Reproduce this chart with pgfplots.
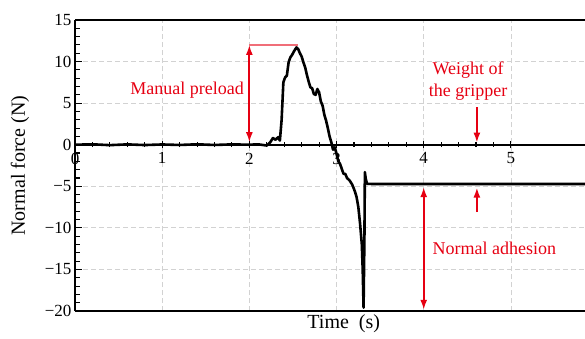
\documentclass[border=0pt]{standalone}
\usepackage{pgfplots}
\pgfplotsset{compat=1.18}
\usepackage{fontspec}
\setmainfont{Liberation Serif}
\usetikzlibrary{arrows.meta}
\definecolor{ared}{RGB}{230,0,18}
\definecolor{apink}{RGB}{240,110,120}
\begin{document}
\begin{tikzpicture}
\useasboundingbox (0,0) rectangle (585pt,338pt);
\begin{axis}[
  at={(75pt,27pt)}, anchor=south west,
  scale only axis, width=510pt, height=291pt,
  xmin=0, xmax=5.85, ymin=-20, ymax=15,
  clip=false,
  axis x line=middle, axis y line=left,
  axis line style={-, line width=1.5pt},
  x axis line style={-, line width=2.4pt},
  hide obscured x ticks=false, hide obscured y ticks=false,
  /pgf/number format/assume math mode=true,
  xtick={0,1,2,3,4,5}, minor x tick num=4,
  ytick={-20,-15,-10,-5,0,5,10,15},
  yticklabels={−20,−15,−10,−5,0,5,10,15},
  minor y tick num=4,
  xtick align=center, ytick align=inside,
  major tick length=7pt, minor tick length=5pt,
  every tick/.style={black, line width=1.1pt},
  grid=major,
  major grid style={gray!35, line width=0.8pt, dash pattern=on 5pt off 3pt},
  tick label style={font=\rmfamily\fontsize{17}{17}\selectfont, black},
  xticklabel style={yshift=-1pt},
  every axis y label/.style={at={(axis description cs:-0.1078,0.5)}, anchor=center, rotate=90, font=\rmfamily\fontsize{20}{20}\selectfont},
  every axis x label/.style={at={(axis description cs:0.527,0)}, anchor=north, inner sep=0pt, yshift=-3pt, font=\rmfamily\fontsize{20}{20}\selectfont},
  ylabel={Normal force (N)},
  xlabel={Time\ \ (s)},
]
\addplot[black, line width=2.6pt, line join=round] coordinates {
(0,0) (0.2,0.05) (0.4,-0.05) (0.6,0.04) (0.8,-0.04) (1.0,0.03) (1.2,-0.03)
(1.4,0.05) (1.6,-0.03) (1.8,0.04) (2.0,0.0) (2.1,0.05) (2.2,-0.1)
(2.24,0.3) (2.27,0.8) (2.30,0.6) (2.33,0.9) (2.35,0.5) (2.37,3.0)
(2.39,7.5) (2.41,8.1) (2.43,8.3) (2.45,9.9) (2.47,10.5) (2.49,10.8)
(2.51,11.2) (2.54,11.7) (2.56,11.5) (2.58,11.0) (2.60,10.6) (2.62,9.9)
(2.64,9.3) (2.66,8.4) (2.68,7.6) (2.70,6.9) (2.72,6.8) (2.74,6.1)
(2.76,6.0) (2.78,6.7) (2.80,6.3) (2.82,5.2) (2.84,4.7) (2.86,3.6)
(2.88,2.9) (2.90,2.0) (2.92,1.0) (2.94,0.3) (2.96,-0.6) (2.98,-0.3)
(3.00,-1.1) (3.02,-2.0) (3.04,-2.3) (3.06,-2.9) (3.08,-3.5) (3.10,-3.5)
(3.12,-4.0) (3.15,-4.3) (3.18,-4.8) (3.21,-5.6) (3.23,-6.3) (3.25,-7.5)
(3.27,-9.5) (3.29,-12.0) (3.30,-15.0) (3.31,-19.6) (3.32,-11.0)
(3.325,-3.3) (3.335,-4.1) (3.35,-4.7) (3.40,-4.72) (5.85,-4.72)
};
% annotations
\draw[apink, line width=1.3pt] (axis cs:2.0,12.0) -- (axis cs:2.56,12.0);
\draw[ared, line width=1.8pt, {Latex[length=10pt,width=7pt]}-{Latex[length=10pt,width=7pt]}] (axis cs:2.0,12.0) -- (axis cs:2.0,0.3);
\node[ared, anchor=east, inner sep=0pt, font=\rmfamily\fontsize{18}{18}\selectfont] at (axis cs:1.94,6.6) {Manual preload};
\node[ared, align=center, inner sep=0pt, font=\rmfamily\fontsize{18}{22}\selectfont] at (axis cs:4.51,7.6) {Weight of\\the gripper};
\draw[ared, line width=1.8pt, -{Latex[length=10pt,width=7pt]}] (axis cs:4.61,4.5) -- (axis cs:4.61,0.25);
\draw[ared, line width=1.8pt, -{Latex[length=10pt,width=7pt]}] (axis cs:4.61,-8.1) -- (axis cs:4.61,-5.15);
\draw[ared, line width=1.8pt, {Latex[length=10pt,width=7pt]}-{Latex[length=10pt,width=7pt]}] (axis cs:4.0,-5.1) -- (axis cs:4.0,-19.85);
\node[ared, anchor=west, inner sep=0pt, font=\rmfamily\fontsize{18}{18}\selectfont] at (axis cs:4.1,-12.5) {Normal adhesion};
% frame top and bottom
\draw[black, line width=1.5pt] (rel axis cs:0,1) -- (rel axis cs:1,1);
\draw[black, line width=1.5pt] (rel axis cs:0,0) -- (rel axis cs:1,0);
\end{axis}
\end{tikzpicture}
\end{document}
